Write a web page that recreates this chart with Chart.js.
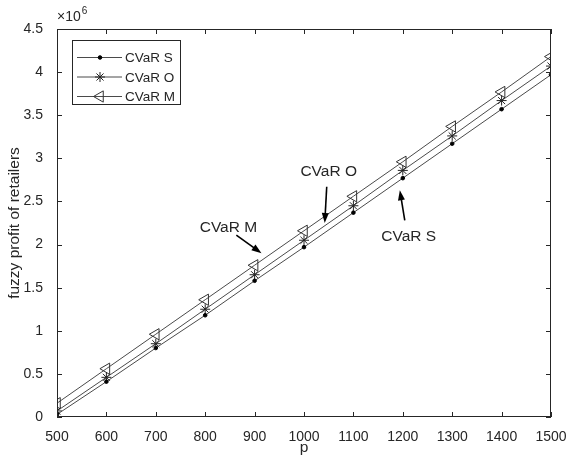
<!DOCTYPE html>
<html>
<head>
<meta charset="utf-8">
<script src="https://cdn.jsdelivr.net/npm/chart.js@4/dist/chart.umd.min.js"></script>
<style>
  html, body { margin: 0; padding: 0; background: #fff; }
  #wrap { width: 566px; height: 463px; position: relative; }
</style>
</head>
<body>
<div id="wrap"><canvas id="chart" width="566" height="463"></canvas></div>
<script>
// data (values in units of 1e6)
const pValues = [500, 600, 700, 800, 900, 1000, 1100, 1200, 1300, 1400, 1500];
const cvarS = [0.03, 0.41, 0.80, 1.18, 1.58, 1.97, 2.37, 2.77, 3.17, 3.57, 3.97];
const cvarO = [0.07, 0.46, 0.85, 1.25, 1.65, 2.05, 2.45, 2.86, 3.26, 3.67, 4.07];
const cvarM = [0.16, 0.56, 0.96, 1.36, 1.76, 2.16, 2.56, 2.96, 3.37, 3.77, 4.18];
const yTicks = [0, 0.5, 1, 1.5, 2, 2.5, 3, 3.5, 4, 4.5];
const seriesNames = ['CVaR S', 'CVaR O', 'CVaR M'];

// text callouts: [label, textX, textY, arrowFromX, arrowFromY, arrowToX, arrowToY]
const callouts = [
  ['CVaR M', 847, 2.20, 863, 2.11, 914, 1.90],
  ['CVaR O', 1050, 2.84, 1046, 2.67, 1042, 2.25],
  ['CVaR S', 1212, 2.09, 1204, 2.28, 1194, 2.63],
];

const FONT = '"Liberation Sans", Arial, sans-serif';
const LINE = '#4a4a4a';
const TEXT = '#262626';

const markers = [
  { pointStyle: 'circle', radius: 1.8, rotation: 0, fill: '#000', stroke: '#000', borderWidth: 1 },
  { pointStyle: 'star', radius: 5, rotation: 0, fill: 'rgba(0,0,0,0)', stroke: '#222', borderWidth: 1 },
  { pointStyle: 'triangle', radius: 6.5, rotation: 270, fill: 'rgba(0,0,0,0)', stroke: '#333', borderWidth: 1 },
];

function makeDataset(name, values, m) {
  return {
    label: name,
    data: pValues.map((p, i) => ({ x: p, y: values[i] })),
    borderColor: LINE,
    borderWidth: 1,
    pointStyle: m.pointStyle,
    pointRadius: m.radius,
    pointRotation: m.rotation,
    pointBackgroundColor: m.fill,
    pointBorderColor: m.stroke,
    pointBorderWidth: m.borderWidth,
    pointHoverRadius: m.radius,
    tension: 0,
  };
}

function drawArrow(ctx, x1, y1, x2, y2) {
  const ang = Math.atan2(y2 - y1, x2 - x1);
  const headLen = 10, headW = 3.5;
  ctx.beginPath();
  ctx.moveTo(x1, y1);
  ctx.lineTo(x2 - headLen * Math.cos(ang) * 0.7, y2 - headLen * Math.sin(ang) * 0.7);
  ctx.stroke();
  ctx.beginPath();
  ctx.moveTo(x2, y2);
  ctx.lineTo(x2 - headLen * Math.cos(ang) + headW * Math.sin(ang), y2 - headLen * Math.sin(ang) - headW * Math.cos(ang));
  ctx.lineTo(x2 - headLen * Math.cos(ang) - headW * Math.sin(ang), y2 - headLen * Math.sin(ang) + headW * Math.cos(ang));
  ctx.closePath();
  ctx.fill();
}

const matlabFrame = {
  id: 'matlabFrame',
  afterDraw(chart) {
    const { ctx, chartArea: a, scales } = chart;
    const xs = scales.x, ys = scales.y;
    ctx.save();

    // box and inward ticks on all four sides
    ctx.strokeStyle = '#262626';
    ctx.lineWidth = 1;
    ctx.strokeRect(a.left + 0.5, a.top + 0.5, a.right - a.left - 1, a.bottom - a.top - 1);
    ctx.beginPath();
    pValues.forEach(p => {
      const px = Math.round(xs.getPixelForValue(p)) + 0.5;
      ctx.moveTo(px, a.bottom); ctx.lineTo(px, a.bottom - 5);
      ctx.moveTo(px, a.top); ctx.lineTo(px, a.top + 5);
    });
    yTicks.forEach(v => {
      const py = Math.round(ys.getPixelForValue(v)) + 0.5;
      ctx.moveTo(a.left, py); ctx.lineTo(a.left + 5, py);
      ctx.moveTo(a.right, py); ctx.lineTo(a.right - 5, py);
    });
    ctx.stroke();

    // axis titles
    ctx.fillStyle = TEXT;
    ctx.font = '15.5px ' + FONT;
    ctx.textAlign = 'center';
    ctx.textBaseline = 'middle';
    ctx.fillText('p', (a.left + a.right) / 2, 448);
    ctx.save();
    ctx.translate(15, (a.top + a.bottom) / 2);
    ctx.rotate(-Math.PI / 2);
    ctx.fillText('fuzzy profit of retailers', 0, 0);
    ctx.restore();

    // exponent label
    ctx.textBaseline = 'alphabetic';
    ctx.textAlign = 'left';
    ctx.font = '14px ' + FONT;
    ctx.fillText('\u00d710', a.left, a.top - 8);
    const w = ctx.measureText('\u00d710').width;
    ctx.font = '10px ' + FONT;
    ctx.fillText('6', a.left + w + 1, a.top - 15);

    // callouts
    ctx.font = '15.5px ' + FONT;
    ctx.textAlign = 'center';
    ctx.textBaseline = 'middle';
    ctx.strokeStyle = '#000';
    ctx.lineWidth = 1.6;
    callouts.forEach(c => {
      ctx.fillStyle = TEXT;
      ctx.fillText(c[0], xs.getPixelForValue(c[1]), ys.getPixelForValue(c[2]));
      ctx.fillStyle = '#000';
      drawArrow(ctx, xs.getPixelForValue(c[3]), ys.getPixelForValue(c[4]),
        xs.getPixelForValue(c[5]), ys.getPixelForValue(c[6]));
    });

    // legend
    const lx = 72, ly = 40, lw = 108, lh = 64;
    ctx.fillStyle = '#fff';
    ctx.fillRect(lx, ly, lw, lh);
    ctx.strokeStyle = '#262626';
    ctx.lineWidth = 1;
    ctx.strokeRect(lx + 0.5, ly + 0.5, lw, lh);
    seriesNames.forEach((name, i) => {
      const yy = ly + 17.5 + i * 19.5;
      ctx.strokeStyle = LINE;
      ctx.lineWidth = 1;
      ctx.beginPath();
      ctx.moveTo(lx + 5, yy); ctx.lineTo(lx + 50, yy);
      ctx.stroke();
      const m = markers[i];
      ctx.fillStyle = m.fill;
      ctx.strokeStyle = m.stroke;
      ctx.lineWidth = m.borderWidth;
      Chart.helpers.drawPoint(ctx, { pointStyle: m.pointStyle, radius: m.radius, rotation: m.rotation, borderWidth: m.borderWidth }, lx + 28, yy);
      ctx.fillStyle = TEXT;
      ctx.font = '13.5px ' + FONT;
      ctx.textAlign = 'left';
      ctx.textBaseline = 'middle';
      ctx.fillText(name, lx + 53, yy + 1);
    });

    ctx.restore();
  }
};

new Chart(document.getElementById('chart'), {
  type: 'line',
  data: {
    datasets: [
      makeDataset(seriesNames[0], cvarS, markers[0]),
      makeDataset(seriesNames[1], cvarO, markers[1]),
      makeDataset(seriesNames[2], cvarM, markers[2]),
    ],
  },
  options: {
    responsive: false,
    animation: false,
    events: [],
    layout: { padding: { top: 29, right: 15, left: 0, bottom: 0 } },
    plugins: { legend: { display: false }, tooltip: { enabled: false } },
    scales: {
      x: {
        type: 'linear',
        min: 500,
        max: 1500,
        afterBuildTicks(scale) { scale.ticks = pValues.map(v => ({ value: v })); },
        afterFit(scale) { scale.height = 46; scale.paddingRight = 0; scale.paddingLeft = 0; },
        grid: { display: false },
        border: { display: false },
        ticks: { color: TEXT, font: { family: FONT, size: 14 }, padding: 4, maxRotation: 0, autoSkip: false, callback: v => String(v) },
      },
      y: {
        type: 'linear',
        min: 0,
        max: 4.5,
        afterBuildTicks(scale) { scale.ticks = yTicks.map(v => ({ value: v })); },
        afterFit(scale) { scale.width = 57; },
        grid: { display: false },
        border: { display: false },
        ticks: { color: TEXT, font: { family: FONT, size: 14 }, padding: 6, callback: v => String(v) },
      },
    },
  },
  plugins: [matlabFrame],
});
</script>
</body>
</html>
